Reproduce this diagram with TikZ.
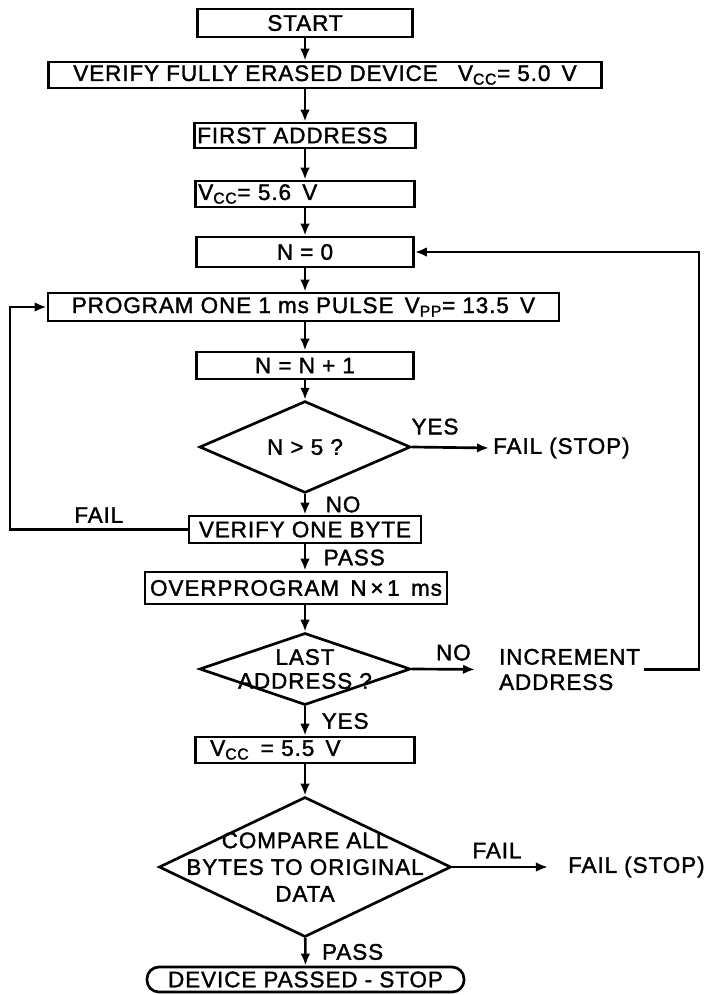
\documentclass[tikz,border=0pt]{standalone}
\usepackage{fontspec}
\setmainfont{Liberation Sans}[LetterSpace=4,FakeBold=1.5]
\usetikzlibrary{arrows.meta,shapes.geometric}
\begin{document}
\begin{tikzpicture}[x=0.025cm,y=-0.025cm,line width=1.9pt,font=\fontsize{16}{19}\selectfont,
box/.style={draw,rectangle,inner sep=2pt,minimum height=0.65cm},
dia/.style={draw,diamond,inner sep=0pt},
arr/.style={-{Latex[length=3mm,width=2.4mm]}},
lbl/.style={inner sep=1pt}]
\useasboundingbox (0,0) rectangle (721,995);
\node[box,minimum width=5.375cm,minimum height=0.7cm](start) at (305,23){START};
\node[box,minimum width=13.825cm](erase) at (325,75){VERIFY FULLY ERASED DEVICE\hspace{0.9em}V\textsubscript{CC}= 5.0\enspace V};
\node[box,minimum width=5.525cm,minimum height=0.625cm,text width=5.385cm,align=left](first) at (305,135.5){FIRST ADDRESS};
\node[box,minimum width=5.475cm,text width=5.335cm,align=left](vcc1) at (305,194){V\textsubscript{CC}= 5.6\enspace V};
\node[box,minimum width=5.425cm,minimum height=0.75cm](nzero) at (305,252){N = 0};
\node[box,minimum width=12.775cm,minimum height=0.7cm](prog) at (303.5,307){PROGRAM ONE 1 ms PULSE\enspace V\textsubscript{PP}= 13.5\enspace V};
\node[box,minimum width=5.425cm,minimum height=0.675cm](ninc) at (305,365.5){N = N + 1};
\node[dia,minimum width=5.275cm,minimum height=1.85cm](dec1) at (305,447){N > 5 ?};
\node[box,minimum width=5.8cm,minimum height=0.675cm](verify) at (305,529.5){VERIFY ONE BYTE};
\node[box,minimum width=7.55cm,minimum height=0.8cm](over) at (296,588){OVERPROGRAM\enspace N\,×\,1\enspace ms};
\node[dia,minimum width=5.275cm,minimum height=1.8cm](dec2) at (305,669){};
\node[align=center,font=\fontsize{16}{17}\selectfont](dec2t) at (dec2){LAST\\ADDRESS ?};
\node[box,minimum width=5.475cm,text width=5.335cm,align=left](vcc2) at (305,750){\hspace*{0.3cm}V\textsubscript{CC}\enspace= 5.5\enspace V};
\node[dia,minimum width=7.3cm,minimum height=3.5cm](dec3) at (305,867){};
\node[align=center](dec3t) at (dec3){COMPARE ALL\\BYTES TO ORIGINAL\\DATA};
\node[draw,rounded corners=3mm,inner sep=2pt,minimum width=7.925cm,minimum height=0.625cm](done) at (305.5,979.5){DEVICE PASSED - STOP};
%%
\node[anchor=west,inner sep=2pt](fail1) at (489,448){FAIL (STOP)};
\node[anchor=west,align=left,inner sep=2pt,font=\fontsize{16}{18}\selectfont](inc) at (495,669.5){INCREMENT\\ADDRESS};
\node[anchor=west,inner sep=2pt](fail2) at (564,867){FAIL (STOP)};
\coordinate(lft) at (10,0);
\coordinate(rgt) at (699,0);
%%
\draw[arr](start)--(start|-erase.north);
\draw[arr](first|-erase.south)--(first);
\draw[arr](first)--(vcc1);
\draw[arr](vcc1)--(nzero);
\draw[arr](nzero)--(nzero|-prog.north);
\draw[arr](ninc|-prog.south)--(ninc);
\draw[arr](ninc)--(dec1);
\draw[arr](dec1)--node[lbl,right=4.5mm]{NO}(verify);
\draw[arr](verify)--node[lbl,right=4mm]{PASS}(verify|-over.north);
\draw[arr](dec2|-over.south)--(dec2);
\draw[arr](dec2)--node[lbl,right=3.5mm]{YES}(vcc2);
\draw[arr](vcc2)--(dec3);
\draw[arr](dec3)--node[lbl,right=3.5mm]{PASS}(done);
%%
\draw[arr](dec1.east)--node[lbl,pos=0.3,above=2.5mm]{YES}(fail1.west);
\draw[arr](verify.west)--node[lbl,midway,above=1mm]{FAIL}(verify.west-|lft)|-(prog.west);
\draw[arr,shorten >=5mm](dec2.east)--node[lbl,midway,above=1.5mm]{NO}(inc.west);
\draw[arr](inc.east)--(inc.east-|rgt)|-(nzero.east);
\draw[arr,shorten >=4mm](dec3.east)--node[lbl,pos=0.4,above=1.5mm]{FAIL}(fail2.west);
\end{tikzpicture}
\end{document}
